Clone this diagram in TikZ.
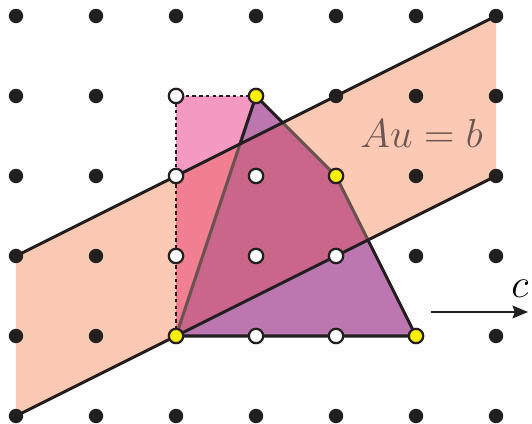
\documentclass[tikz,border=0pt]{standalone}
\usepackage{amsmath,amssymb}
\usepackage{tikz}
\usetikzlibrary{arrows.meta}
\definecolor{bandc}{RGB}{251,201,180}
\definecolor{pinkc}{RGB}{244,154,194}
\definecolor{pinkbandc}{RGB}{241,126,145}
\definecolor{quadc}{RGB}{188,119,176}
\definecolor{quadbandc}{RGB}{201,102,137}
\definecolor{edgec}{RGB}{107,82,80}
\definecolor{textc}{RGB}{107,85,80}
\definecolor{dotc}{RGB}{35,31,32}
\definecolor{yelc}{RGB}{255,240,0}
\tikzset{
  lattice/.style={fill=dotc},
  inpt/.style={fill=white,draw=dotc,line width=0.8pt},
  vertpt/.style={fill=yelc,draw=dotc,line width=0.8pt},
  bandline/.style={line width=1.1pt,draw=dotc},
  polyedge/.style={line width=1.1pt,draw=dotc,line join=round},
  hidedge/.style={line width=1.1pt,draw=edgec,line join=round},
}

\begin{document}
\begin{tikzpicture}[x=1cm,y=1cm]
  \useasboundingbox (-0.2,-0.0875) rectangle (6.45,5.2);
  \def\band{(0,0) -- (6,3) -- (6,5) -- (0,2) -- cycle}
  % band and fills
  \fill[bandc] \band;
  \fill[pinkc] (2,1) -- (2,4) -- (3,4) -- cycle;
  \fill[quadc] (2,1) -- (3,4) -- (4,3) -- (5,1) -- cycle;
  \begin{scope}
    \clip \band;
    \fill[pinkbandc] (2,1) -- (2,4) -- (3,4) -- cycle;
    \fill[quadbandc] (2,1) -- (3,4) -- (4,3) -- (5,1) -- cycle;
    \draw[hidedge] (2,1) -- (3,4) -- (4,3) -- (5,1);
  \end{scope}
  % dotted box
  \draw[dotc,line width=0.7pt,dash pattern=on 1.2pt off 1.2pt] (2,1) -- (2,4) -- (3,4);
  % edges outside the band
  \draw[polyedge] (2.8,3.4) -- (3,4) -- (10/3,11/3);
  \draw[polyedge] (4.4,2.2) -- (5,1) -- (2,1);
  \draw[bandline] (0,0) -- (6,3);
  \draw[bandline] (0,2) -- (6,5);
  % lattice
  \foreach \i in {0,...,6}
    \foreach \j in {0,...,5}
      \fill[lattice] (\i,\j) circle (0.09);
  \foreach \p in {(2,4),(2,3),(2,2),(3,3),(3,2),(4,2),(3,1),(4,1)}
    \filldraw[inpt] \p circle (0.09);
  \foreach \p in {(2,1),(3,4),(4,3),(5,1)}
    \filldraw[vertpt] \p circle (0.09);
  % labels
  \node[anchor=base,text=textc,font=\fontsize{15.5}{18}\selectfont] (eq) at (5.07,3.35) {$Au = b$};
  \coordinate (c0) at (5.19,1.3);
  \coordinate (c1) at (6.4,1.3);
  \draw[dotc,line width=0.8pt,-{Stealth[length=5.5pt,width=4.5pt,inset=0.8pt]}] (c0) -- (c1);
  \node[anchor=base,font=\fontsize{15.5}{18}\selectfont] (clabel) at (6.3,1.475) {$c$};
\end{tikzpicture}
\end{document}
